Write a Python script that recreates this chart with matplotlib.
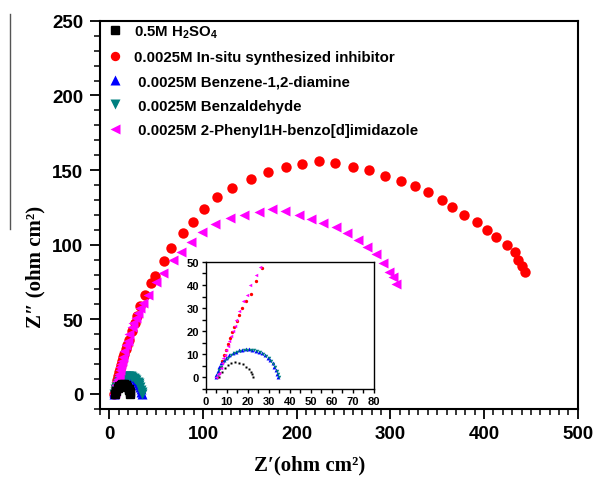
import matplotlib
matplotlib.use('Agg')
import matplotlib.pyplot as plt
from matplotlib.ticker import MultipleLocator
from matplotlib.lines import Line2D

plt.rcParams['font.family'] = ['Liberation Sans', 'DejaVu Sans']
plt.rcParams['font.weight'] = 'bold'
plt.rcParams['mathtext.fontset'] = 'custom'
plt.rcParams['mathtext.rm'] = 'Liberation Sans:bold'
plt.rcParams['mathtext.bf'] = 'Liberation Sans:bold'
plt.rcParams['mathtext.default'] = 'bf'

####### DATA #######
labels = ['0.5M H$_2$SO$_4$',
          '0.0025M In-situ synthesized inhibitor',
          ' 0.0025M Benzene-1,2-diamine',
          ' 0.0025M Benzaldehyde',
          ' 0.0025M 2-Phenyl1H-benzo[d]imidazole']

blank_x = [6.2, 7.5, 9.0, 10.6, 12.2, 13.9, 15.8, 17.7, 19.3, 20.6, 21.4, 21.9, 22.5]
blank_y = [0.0, 2.2, 3.9, 5.2, 6.1, 6.7, 6.4, 5.7, 4.6, 3.5, 2.3, 1.3, 0.1]

insitu_x = [5.5, 6.2, 7.0, 7.8, 8.6, 9.5, 10.4, 11.4, 12.5, 13.6, 14.8, 16.0, 17.4, 19.0,
            21.3, 24.1, 27.0, 30.0, 33.0, 38.0, 45.0, 49.0, 58.0, 66.0, 79.0, 89.0, 101.0,
            115.0, 131.0, 151.0, 169.0, 189.0, 206.0, 224.0, 241.0, 260.0, 277.0, 294.0,
            311.0, 326.0, 340.0, 355.0, 366.0, 379.0, 392.0, 403.0, 413.0, 424.0, 433.0,
            436.0, 441.0, 444.0]
insitu_y = [0.0, 2.0, 4.5, 7.0, 9.5, 12.0, 14.5, 17.0, 19.5, 22.0, 24.5, 27.0, 30.0, 33.0,
            36.0, 41.9, 47.4, 52.0, 59.0, 66.0, 74.0, 79.0, 89.0, 98.0, 108.0, 115.0, 124.0,
            132.0, 138.0, 144.0, 149.0, 152.0, 154.0, 156.0, 155.0, 152.0, 150.0, 146.0,
            143.0, 139.0, 135.0, 130.0, 125.0, 120.0, 115.0, 110.0, 105.0, 100.0, 95.0,
            90.0, 86.0, 82.0]

diamine_x = [4.6, 5.0, 5.6, 6.4, 7.4, 8.5, 9.8, 11.2, 12.7, 14.2, 15.8, 17.4, 19.0, 20.6,
             22.2, 23.8, 25.3, 26.8, 28.2, 29.5, 30.7, 31.8, 32.7, 33.5, 34.1, 34.5]
diamine_y = [0.0, 1.2, 2.9, 4.5, 6.1, 7.4, 8.6, 9.7, 10.5, 11.2, 11.7, 12.0, 12.2, 12.2,
             12.0, 11.6, 11.1, 10.4, 9.5, 8.5, 7.4, 6.1, 4.7, 3.2, 1.6, 0.0]

aldehyde_x = [5.2, 5.7, 6.3, 7.1, 8.1, 9.2, 10.5, 11.9, 13.4, 14.9, 16.5, 18.1, 19.7, 21.3,
              22.9, 24.5, 26.0, 27.4, 28.8, 30.1, 31.2, 32.2, 33.1, 33.8, 34.4, 34.8]
aldehyde_y = [0.0, 1.4, 3.0, 4.6, 6.1, 7.4, 8.6, 9.6, 10.4, 11.1, 11.6, 11.9, 12.0, 12.0,
              11.8, 11.4, 10.8, 10.1, 9.2, 8.2, 7.1, 5.8, 4.4, 2.9, 1.4, 0.0]

imidazole_x = [5.0, 5.8, 6.4, 7.0, 7.6, 8.4, 9.2, 9.8, 10.4, 11.0, 11.8, 12.7, 13.8, 14.6,
               15.9, 17.8, 19.4, 21.0, 23.8, 25.7, 28.6, 30.5, 32.8, 35.6, 41.0, 49.9, 57.0,
               68.4, 76.6, 87.0, 98.6, 113.0, 129.0, 144.0, 159.5, 174.0, 188.0, 202.0,
               215.5, 228.6, 242.0, 253.5, 265.3, 275.0, 285.0, 292.0, 298.4, 302.6, 306.3]
imidazole_y = [0.0, 1.5, 1.9, 4.1, 6.3, 8.5, 9.9, 11.8, 13.6, 15.8, 17.7, 20.1, 22.3, 24.9,
               28.8, 32.9, 35.5, 40.0, 44.5, 47.7, 51.0, 54.0, 57.5, 60.8, 66.4, 74.9, 81.0,
               89.8, 95.4, 102.0, 108.7, 114.0, 118.0, 120.0, 122.0, 124.0, 122.8, 119.9,
               117.2, 114.8, 111.6, 107.6, 103.1, 98.7, 93.6, 87.6, 82.0, 78.2, 73.5]

####### PLOTTING #######
fig = plt.figure(figsize=(5.95, 4.85), dpi=100)
ax = fig.add_axes([0.168, 0.155, 0.803, 0.800])

ax.plot(blank_x, blank_y, 's', color='black', ms=6, label=labels[0], zorder=6)
ax.plot(insitu_x, insitu_y, 'o', color='#ff0000', mec='none', ms=7.5, label=labels[1], zorder=2)
ax.plot(diamine_x, diamine_y, '^', color='#0000ff', mec='none', ms=7.5, label=labels[2], zorder=3)
ax.plot(aldehyde_x, aldehyde_y, 'v', color='#008080', mec='none', ms=7.5, label=labels[3], zorder=4)
ax.plot(imidazole_x, imidazole_y, '<', color='#ff00ff', mec='none', ms=7.5, label=labels[4], zorder=5)

ax.set_xlim(-10, 500)
ax.set_ylim(-10, 250)
ax.xaxis.set_major_locator(MultipleLocator(100))
ax.xaxis.set_minor_locator(MultipleLocator(10))
ax.yaxis.set_major_locator(MultipleLocator(50))
ax.yaxis.set_minor_locator(MultipleLocator(10))
ax.tick_params(which='major', direction='out', length=7, width=1.3, labelsize=13.5, pad=5)
ax.tick_params(which='minor', direction='out', length=4, width=1.1)
for s in ax.spines.values():
    s.set_linewidth(1.5)

ax.legend(loc='upper left', bbox_to_anchor=(0.0, 1.012), frameon=False, fontsize=10.8,
          handlelength=1.0, handletextpad=0.8, labelspacing=0.68, borderaxespad=0.1,
          numpoints=1, markerscale=0.9)

serif = ['Liberation Serif', 'DejaVu Serif']
fig.text(0.52, 0.04, 'Z\u2032(ohm cm\u00b2)', ha='center', va='center', fontsize=15,
         family=serif, fontweight='bold')
fig.text(0.06, 0.45, 'Z\u2033 (ohm cm\u00b2)', ha='center', va='center', fontsize=15,
         family=serif, fontweight='bold', rotation=90)
fig.add_artist(Line2D([10 / 595, 10 / 595], [1 - 15 / 485, 1 - 230 / 485],
                      transform=fig.transFigure, color='#555555', lw=1.0))

####### INSET #######
ins = fig.add_axes([0.346, 0.196, 0.282, 0.262])
ins.plot(blank_x, blank_y, 's', color='black', ms=2.0, mec='none')
ins.plot(insitu_x, insitu_y, 'o', color='#ff0000', ms=2.4, mec='none')
ins.plot(diamine_x, diamine_y, '^', color='#0000ff', ms=2.8, mec='none')
ins.plot(aldehyde_x, aldehyde_y, 'v', color='#008080', ms=2.5, mec='none')
ins.plot(imidazole_x, imidazole_y, '<', color='#ff00ff', ms=2.5, mec='none')
ins.set_xlim(0, 80)
ins.set_ylim(-5, 50)
ins.xaxis.set_major_locator(MultipleLocator(10))
ins.xaxis.set_minor_locator(MultipleLocator(5))
ins.yaxis.set_major_locator(MultipleLocator(10))
ins.yaxis.set_minor_locator(MultipleLocator(5))
ins.tick_params(which='both', direction='out', length=3, width=1.0, labelsize=8, pad=2)
for s in ins.spines.values():
    s.set_linewidth(1.0)

fig.savefig('out.png', dpi=100)
